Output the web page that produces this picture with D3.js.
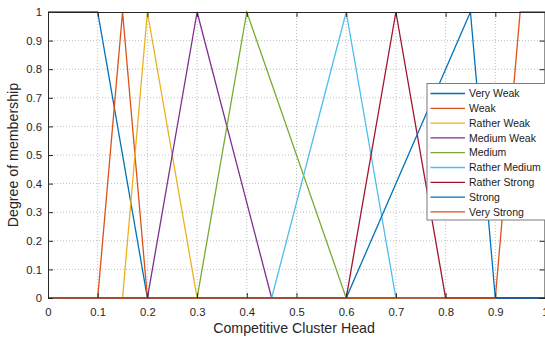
<!DOCTYPE html>
<html>
<head>
<meta charset="utf-8">
<script src="https://cdn.jsdelivr.net/npm/d3@7"></script>
<style>
  html, body { margin: 0; padding: 0; background: #fff; }
  svg { display: block; font-family: "Liberation Sans", Arial, sans-serif; }
</style>
</head>
<body>
<svg id="chart" width="545" height="339"></svg>
<script>
// Membership function names, breakpoints and colours
const names = ["Very Weak", "Weak", "Rather Weak", "Medium Weak", "Medium",
               "Rather Medium", "Rather Strong", "Strong", "Very Strong"];
// Each shape is a list of [x, membership] vertices spanning 0..1
const shapes = [
  [[0, 1], [0.1, 1], [0.2, 0], [1, 0]],
  [[0, 0], [0.1, 0], [0.15, 1], [0.2, 0], [1, 0]],
  [[0, 0], [0.15, 0], [0.2, 1], [0.3, 0], [1, 0]],
  [[0, 0], [0.2, 0], [0.3, 1], [0.45, 0], [1, 0]],
  [[0, 0], [0.3, 0], [0.4, 1], [0.6, 0], [1, 0]],
  [[0, 0], [0.45, 0], [0.6, 1], [0.7, 0], [1, 0]],
  [[0, 0], [0.6, 0], [0.7, 1], [0.8, 0], [1, 0]],
  [[0, 0], [0.6, 0], [0.85, 1], [0.9, 0], [1, 0]],
  [[0, 0], [0.9, 0], [0.95, 1], [1, 1]]
];
const colors = ["#0072BD", "#D95319", "#EDB120", "#7E2F8E", "#77AC30",
                "#4DBEEE", "#A2142F", "#0072BD", "#D95319"];
const xTicks = [0, 0.1, 0.2, 0.3, 0.4, 0.5, 0.6, 0.7, 0.8, 0.9, 1];
const yTicks = [0, 0.1, 0.2, 0.3, 0.4, 0.5, 0.6, 0.7, 0.8, 0.9, 1];
const xLabel = "Competitive Cluster Head";
const yLabel = "Degree of membership";

const svg = d3.select("#chart");
const mLeft = 48, mRight = 545, mTop = 12, mBottom = 298;

const x = d3.scaleLinear().domain([0, 1]).range([mLeft, mRight]);
const y = d3.scaleLinear().domain([0, 1]).range([mBottom, mTop]);

// Dotted grid
const grid = svg.append("g").attr("stroke", "#b0b0b0").attr("stroke-width", 0.8)
  .attr("stroke-dasharray", "1,2");
grid.selectAll(".gx").data(xTicks.slice(1, -1)).join("line")
  .attr("x1", d => x(d)).attr("x2", d => x(d)).attr("y1", mTop).attr("y2", mBottom);
grid.selectAll(".gy").data(yTicks.slice(1, -1)).join("line")
  .attr("y1", d => y(d)).attr("y2", d => y(d)).attr("x1", mLeft).attr("x2", mRight);

// Membership curves
const line = d3.line().x(d => x(d[0])).y(d => y(d[1]));
svg.append("g").selectAll("path").data(shapes).join("path")
  .attr("d", line)
  .attr("fill", "none")
  .attr("stroke", (d, i) => colors[i])
  .attr("stroke-width", 1.3);

// Axes (ticks pointing inward, box on all sides)
const axisColor = "#262626";
const fmt = d3.format("");
const xb = svg.append("g").attr("transform", `translate(0,${mBottom})`)
  .call(d3.axisBottom(x).tickValues(xTicks).tickSize(-5).tickPadding(10).tickFormat(fmt));
const xt = svg.append("g").attr("transform", `translate(0,${mTop})`)
  .call(d3.axisTop(x).tickValues(xTicks).tickSize(-5).tickFormat(""));
const yl = svg.append("g").attr("transform", `translate(${mLeft},0)`)
  .call(d3.axisLeft(y).tickValues(yTicks).tickSize(-5).tickPadding(6).tickFormat(fmt));
const yr = svg.append("g").attr("transform", `translate(${mRight - 0.5},0)`)
  .call(d3.axisRight(y).tickValues(yTicks).tickSize(-5).tickFormat(""));
[xb, xt, yl, yr].forEach(g => {
  g.select(".domain").attr("stroke", axisColor).attr("stroke-width", 1);
  g.selectAll(".tick line").attr("stroke", axisColor);
  g.selectAll("text").attr("fill", axisColor).style("font-size", "11.3px")
    .style("font-family", "'Liberation Sans', Arial, sans-serif");
});
xb.select(".domain").remove();
svg.append("line").attr("x1", mLeft).attr("x2", mRight).attr("y1", mBottom).attr("y2", mBottom)
  .attr("stroke", axisColor).attr("stroke-width", 0.6).attr("opacity", 0.4);

// Axis labels
svg.append("text").attr("x", 294).attr("y", 333)
  .attr("text-anchor", "middle").attr("fill", axisColor)
  .style("font-size", "14.2px").text(xLabel);
svg.append("text").attr("transform", `translate(17.5,155) rotate(-90)`)
  .attr("text-anchor", "middle").attr("fill", axisColor)
  .style("font-size", "14.2px").text(yLabel);

// Legend
const lg = svg.append("g");
const lx = 427, ly = 83.5, rowH = 14.8;
lg.append("rect").attr("x", lx).attr("y", ly).attr("width", 125).attr("height", 136.5)
  .attr("fill", "#fff").attr("stroke", "#7a7a7a").attr("stroke-width", 1);
const rows = lg.selectAll(".row").data(names).join("g")
  .attr("transform", (d, i) => `translate(0,${ly + 10 + i * rowH})`);
rows.append("line").attr("x1", lx + 3.5).attr("x2", lx + 38)
  .attr("stroke", (d, i) => colors[i]).attr("stroke-width", 1.3);
rows.append("text").attr("x", lx + 42).attr("dy", "0.35em")
  .attr("fill", "#1a1a1a").style("font-size", "10.5px").text(d => d);
</script>
</body>
</html>
